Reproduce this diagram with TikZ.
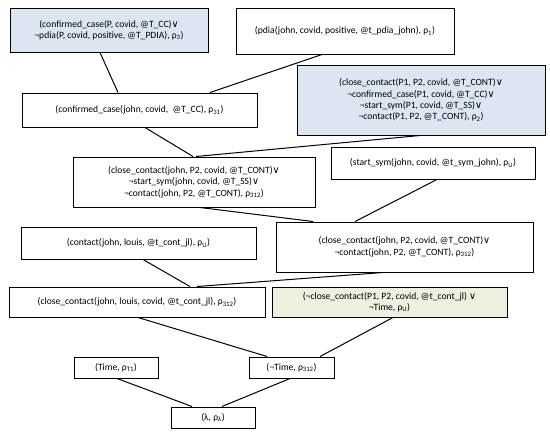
\documentclass[tikz,border=0pt]{standalone}
\usepackage{fontspec}
\setmainfont{Carlito}
\newfontfamily\symfont{DejaVu Sans}
\definecolor{lblue}{HTML}{DCE6F2}
\definecolor{lgreen}{HTML}{EBF1DE}
\newcommand{\ro}[1]{ρ\textsubscript{#1}}
\newcommand{\orr}{{\symfont ∨}}
\begin{document}
\begin{tikzpicture}[x=1pt, y=-1pt, font=\fontsize{9.6}{11.4}\selectfont,
	box/.style={draw, line width=1pt, align=center, inner sep=2pt},
	link/.style={line width=1pt}]
	\useasboundingbox (0,0) rectangle (550,432);
	% premises
	\node[box, fill=lblue, minimum width=198pt, minimum height=44pt] (rule3) at (109,30) {(confirmed\_case(P, covid, @T\_CC)\orr\\¬pdia(P, covid, positive, @T\_PDIA), \ro{3})};
	\node[box, minimum width=218pt, minimum height=46pt] (pdia) at (345,31) {(pdia(john, covid, positive, @t\_pdia\_john), \ro{1})};
	\node[box, minimum width=235pt, minimum height=34pt] (ccjohn) at (139.5,110) {(confirmed\_case(john, covid,\ \ @T\_CC), \ro{31})};
	\node[box, fill=lblue, minimum width=248pt, minimum height=70pt] (rule2) at (421,100) {(close\_contact(P1, P2, covid, @T\_CONT)\orr\\¬confirmed\_case(P1, covid, @T\_CC)\orr\\¬start\_sym(P1, covid, @T\_SS)\orr\\¬contact(P1, P2, @T\_CONT), \ro{2})};
	\node[box, minimum width=242pt, minimum height=50pt] (res31) at (194,182) {(close\_contact(john, P2, covid, @T\_CONT)\orr\\¬start\_sym(john, covid, @T\_SS)\orr\\¬contact(john, P2, @T\_CONT), \ro{312})};
	\node[box, minimum width=204pt, minimum height=32pt] (ssym) at (433,163) {(start\_sym(john, covid, @t\_sym\_john), \ro{U})};
	\node[box, minimum width=235pt, minimum height=32pt] (cont) at (138.5,243) {(contact(john, louis, @t\_cont\_jl), \ro{U})};
	\node[box, minimum width=257pt, minimum height=50pt] (res312) at (404.5,247) {(close\_contact(john, P2, covid, @T\_CONT)\orr\\¬contact(john, P2, @T\_CONT), \ro{312})};
	\node[box, minimum width=256pt, minimum height=30pt] (ccjl) at (137,302) {(close\_contact(john, louis, covid, @t\_cont\_jl), \ro{312})};
	\node[box, fill=lgreen, minimum width=235pt, minimum height=30pt] (query) at (389.5,302) {(¬close\_contact(P1, P2, covid, @t\_cont\_jl) \orr\\¬Time, \ro{U})};
	% bottom
	\node[box, minimum width=84pt, minimum height=21pt] (time) at (116,367.5) {(Time, \ro{T1})};
	\node[box, minimum width=85pt, minimum height=21pt] (ntime) at (291.5,367.5) {(¬Time, \ro{312})};
	\node[box, minimum width=84pt, minimum height=21pt] (empty) at (213,417.5) {(λ, \ro{λ})};
	% links
	\draw[link] ([xshift=-9pt]rule3.south) -- ([xshift=-21.5pt]ccjohn.north);
	\draw[link] ([xshift=-23pt]pdia.south) -- ([xshift=70.5pt]ccjohn.north);
	\draw[link] ([xshift=5.5pt]ccjohn.south) -- ([xshift=-1pt]res31.north);
	\draw[link] ([xshift=-1pt]rule2.south) -- ([xshift=2pt]res31.north);
	\draw[link] ([xshift=6pt]res31.south) -- ([xshift=-91.5pt]res312.north);
	\draw[link] ([xshift=4pt]ssym.south) -- ([xshift=-49.5pt]res312.north);
	\draw[link] ([xshift=4.5pt]cont.south) -- ([xshift=53pt]ccjl.north);
	\draw[link] ([xshift=-21.5pt]res312.south) -- ([xshift=60pt]ccjl.north);
	\draw[link] ([xshift=1pt]ccjl.south) -- ([xshift=-24.5pt]ntime.north);
	\draw[link] ([xshift=3.5pt]query.south) -- ([xshift=28.5pt]ntime.north);
	\draw[link] ([xshift=1pt]time.south) -- ([xshift=-21pt]empty.north);
	\draw[link] ([xshift=-1.5pt]ntime.south) -- ([xshift=9pt]empty.north);
\end{tikzpicture}
\end{document}
